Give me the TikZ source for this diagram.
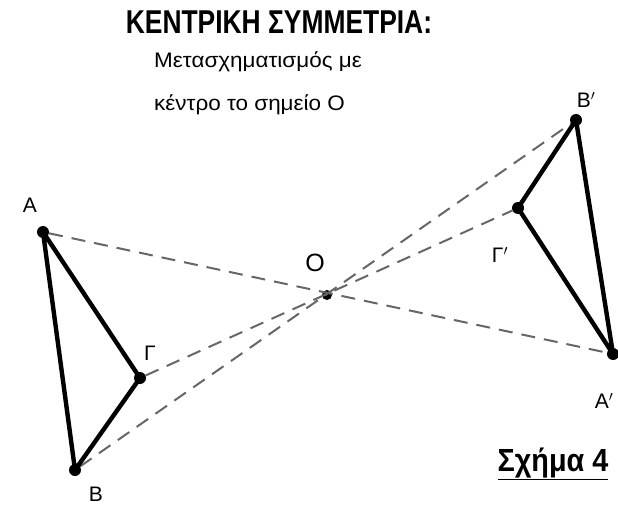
\documentclass[tikz,border=0pt]{standalone}
\usepackage{fontspec}
\setmainfont{Liberation Sans}
\usetikzlibrary{positioning}
\tikzstyle{side}=[line width=4.4pt, line cap=round, line join=round, black]
\tikzstyle{ray}=[line width=2pt, black!60, dash pattern=on 14pt off 9pt]

\begin{document}
\begin{tikzpicture}[x=1pt, y=-1pt,
  pt/.style={circle, fill=black, inner sep=0pt, minimum size=12pt},
  lbl/.style={font=\fontsize{21}{23}\selectfont, inner sep=0pt}
]
\useasboundingbox (0,0) rectangle (618,505);
% heading
\node[font=\bfseries\fontsize{33}{36}\selectfont, xscale=0.8, inner sep=0pt] (title) at (279,22) {ΚΕΝΤΡΙΚΗ ΣΥΜΜΕΤΡΙΑ:};
\node[font=\fontsize{21}{43}\selectfont, align=left, anchor=north west, inner sep=0pt, xscale=1.07] (sub) at (154,51) {Μετασχηματισμός με\\κέντρο το σημείο Ο};

% points
\node[pt] (A) at (43,232) {};
\node[pt] (B) at (75,470) {};
\node[pt] (G) at (140,378) {};
\node[pt, minimum size=10pt] (O) at (327,295) {};
\node[pt] (A1) at (613,354) {};
\node[pt] (B1) at (576,120) {};
\node[pt] (G1) at (518,208) {};

% dashed rays through O
\draw[ray] (A) -- (A1);
\draw[ray] (B) -- (B1);
\draw[ray] (G) -- (G1);

% triangles
\draw[side] (A.center) -- (B.center) -- (G.center) -- cycle;
\draw[side] (A1.center) -- (B1.center) -- (G1.center) -- cycle;

% labels
\node[lbl] (lA) at (30,205) {Α};
\node[lbl] (lB) at (96,494) {Β};
\node[lbl] (lG) at (150,353) {Γ};
\node[lbl, font=\fontsize{25}{27}\selectfont] (lO) at (315,263) {Ο};
\node[lbl] (lB1) at (586,100) {Β$'$};
\node[lbl] (lG1) at (500,255) {Γ$'$};
\node[lbl] (lA1) at (604,401) {Α$'$};

% caption
\node[font=\bfseries\fontsize{32}{35}\selectfont, xscale=0.9, inner sep=1pt] (cap) at (553,464) {\underline{Σχήμα 4}};
\end{tikzpicture}
\end{document}
